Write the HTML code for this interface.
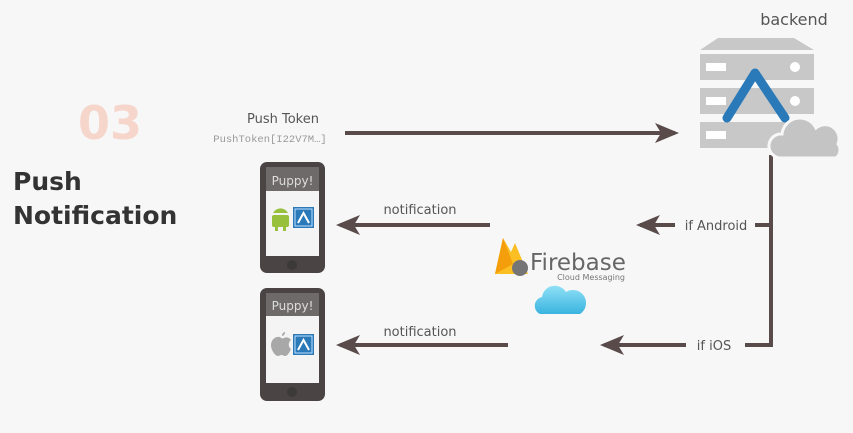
<!DOCTYPE html>
<html><head><meta charset="utf-8"><style>
body{margin:0;width:853px;height:433px;background:#f7f7f7;overflow:hidden;font-family:"Liberation Sans","DejaVu Sans",sans-serif}
</style></head><body>
<svg width="853" height="433" viewBox="0 0 853 433" xmlns="http://www.w3.org/2000/svg" style="position:absolute;left:0;top:0">
<defs>
<marker id="ah" markerWidth="6" markerHeight="6" refX="5" refY="3" orient="auto" markerUnits="strokeWidth">
<path d="M0,0.5 L6,3 L0,5.5 L1.5,3 Z" fill="#5a4b4b"/></marker>
<linearGradient id="cl" x1="0" y1="0" x2="0" y2="1"><stop offset="0" stop-color="#8fe0f5"/><stop offset="1" stop-color="#3ab4e0"/></linearGradient>
</defs>
<text x="110" y="139" font-size="46" font-weight="bold" fill="#f6d5cb" text-anchor="middle" font-family="DejaVu Sans, sans-serif">03</text>
<text x="13" y="190" font-size="25" font-weight="bold" fill="#333" font-family="DejaVu Sans, sans-serif">Push</text>
<text x="13" y="224" font-size="25" font-weight="bold" fill="#333" font-family="DejaVu Sans, sans-serif">Notification</text>
<text x="283" y="123" font-size="13" fill="#555" text-anchor="middle" font-family="DejaVu Sans, sans-serif">Push Token</text>
<text x="270" y="142" font-size="10.5" fill="#999" text-anchor="middle" font-family="Liberation Mono, monospace">PushToken[I22V7M…]</text>
<text x="794" y="25" font-size="16" fill="#555" text-anchor="middle" font-family="DejaVu Sans, sans-serif">backend</text>
<g stroke="#5a4b4b" stroke-width="4" fill="none">
<line x1="345" y1="133" x2="675" y2="133" marker-end="url(#ah)"/>
<polyline points="771,155 771,345 745,345"/>
<line x1="771" y1="225" x2="755" y2="225"/>
<line x1="675" y1="225" x2="640" y2="225" marker-end="url(#ah)"/>
<line x1="490" y1="225" x2="340" y2="225" marker-end="url(#ah)"/>
<line x1="686" y1="345" x2="604" y2="345" marker-end="url(#ah)"/>
<line x1="508" y1="345" x2="340" y2="345" marker-end="url(#ah)"/>
</g>
<g font-family="DejaVu Sans, sans-serif" font-size="13" fill="#555">
<text x="716" y="230" text-anchor="middle">if Android</text>
<text x="714" y="350" text-anchor="middle">if iOS</text>
<text x="420" y="214" text-anchor="middle">notification</text>
<text x="420" y="336" text-anchor="middle">notification</text>
</g>
<g fill="#c8c8c8">
<path d="M700,50 L718,38 L794,38 L814,50 Z"/>
<rect x="700" y="54" width="114" height="26"/>
<rect x="700" y="88" width="114" height="26"/>
<rect x="700" y="122" width="114" height="26"/>
</g>
<g fill="#fff">
<rect x="706" y="63" width="20" height="8"/><circle cx="795" cy="67" r="5"/>
<rect x="706" y="97" width="20" height="8"/><circle cx="795" cy="101" r="5"/>
<rect x="706" y="131" width="20" height="8"/>
</g>
<polyline points="727,118 755,73 785,118" stroke="#2a79b8" stroke-width="9" stroke-linecap="round" stroke-linejoin="round" fill="none"/>
<g fill="#c4c4c4" stroke="#f7f7f7" stroke-width="3">
<path d="M780,158 a12,12 0 0 1 2,-24 a18,18 0 0 1 34,-6 a14,14 0 0 1 22,16 a10,10 0 0 1 -2,14 Z"/>
</g>
<g>
<rect x="260" y="162" width="65" height="111" rx="7" fill="#4a4444"/>
<rect x="266" y="167" width="53" height="24" fill="#6e6a6a"/>
<rect x="266" y="191" width="53" height="65" fill="#f4f4f4"/>
<circle cx="292" cy="265" r="5" fill="#3e3939"/>
<text x="292.5" y="185" font-size="12" fill="#ddd" text-anchor="middle" font-family="DejaVu Sans, sans-serif">Puppy!</text>
<g fill="#97c03d"><rect x="272" y="215" width="17" height="12" rx="2"/><path d="M273,213 a8,7 0 0 1 15,0 Z"/><rect x="275" y="225" width="3" height="6"/><rect x="283" y="225" width="3" height="6"/></g>
<rect x="293" y="207" width="21" height="21" fill="#2a79b8"/><rect x="295" y="209" width="17" height="17" fill="none" stroke="#bfe0ff" stroke-width="1"/>
<polyline points="298,223 303.5,213 309,223" stroke="#fff" stroke-width="2" fill="none"/>
</g>
<g>
<rect x="260" y="288" width="65" height="113" rx="7" fill="#4a4444"/>
<rect x="266" y="293" width="53" height="23" fill="#6e6a6a"/>
<rect x="266" y="316" width="53" height="67" fill="#f4f4f4"/>
<circle cx="292" cy="392" r="5" fill="#3e3939"/>
<text x="292.5" y="310" font-size="12" fill="#ddd" text-anchor="middle" font-family="DejaVu Sans, sans-serif">Puppy!</text>
<path d="M280,337 c-5,-1 -9,3 -9,8 c0,5 4,11 7,11 c1.5,0 2,-1 3.5,-1 c1.5,0 2,1 3.5,1 c3,0 5,-5 6,-7 c-3,-2 -3,-7 0,-9 c-2,-3 -5,-3 -7,-2 c-1,0.5 -2,1 -4,-1 Z M282,336 c0,-2 1,-4 3,-4 c0,2 -1,4 -3,4Z" fill="#a8a8a8"/>
<rect x="293" y="334" width="21" height="21" fill="#2a79b8"/><rect x="295" y="336" width="17" height="17" fill="none" stroke="#bfe0ff" stroke-width="1"/>
<polyline points="298,350 303.5,340 309,350" stroke="#fff" stroke-width="2" fill="none"/>
</g>
<path d="M495,274 L503,238 L511,252 L515,243 L528,274 Z" fill="#fbbf24"/>
<path d="M495,274 L503,238 L513,264 Z" fill="#f59e0b"/>
<circle cx="520" cy="268" r="8" fill="#757575"/>
<text x="530" y="270" font-size="23" fill="#666" font-family="DejaVu Sans, sans-serif">Firebase</text>
<text x="625" y="280" font-size="8" fill="#777" text-anchor="end" font-family="DejaVu Sans, sans-serif">Cloud Messaging</text>
<path d="M540,314 a9,9 0 0 1 2,-17 a13,13 0 0 1 24,-5 a11,11 0 0 1 14,22 Z" fill="url(#cl)"/>
</svg>
</body></html>
